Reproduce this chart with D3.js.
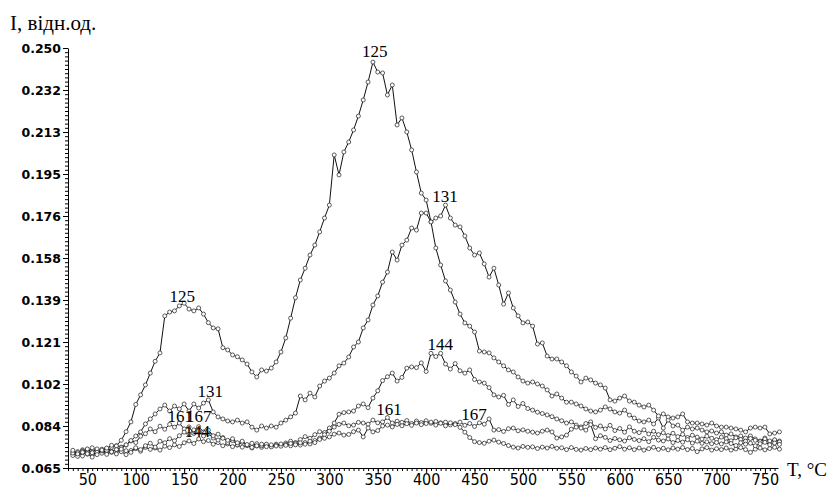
<!DOCTYPE html>
<html>
<head>
<meta charset="utf-8">
<script src="https://cdn.jsdelivr.net/npm/d3@7"></script>
<style>
    body { margin: 0; background: #fff; }
</style>
</head>
<body>
<div id="chart"></div>
<script>
// temperature grid, °C
const temps = [35,40,45,50,55,60,65,70,75,80,85,90,95,100,105,110,115,120,125,130,
    135,140,145,150,155,160,165,170,175,180,185,190,195,200,205,210,215,220,225,230,
    235,240,245,250,255,260,265,270,275,280,285,290,295,300,305,310,315,320,325,330,
    335,340,345,350,355,360,365,370,375,380,385,390,395,400,405,410,415,420,425,430,
    435,440,445,450,455,460,465,470,475,480,485,490,495,500,505,510,515,520,525,530,
    535,540,545,550,555,560,565,570,575,580,585,590,595,600,605,610,615,620,625,630,
    635,640,645,650,655,660,665,670,675,680,685,690,695,700,705,710,715,720,725,730,
    735,740,745,750,755,760,765];

// intensity, rel. units, one array per m/z
const s125 = [.0712,.0722,.0703,.0731,.0708,.0724,.0733,.0716,.0741,.0748,.0772,.0810,.0853,.0930,.0972,.1016,.1068,.1120,.1157,.1320,
    .1337,.1342,.1364,.1376,.1350,.1342,.1355,.1328,.1290,.1267,.1263,.1180,.1170,.1148,.1140,.1126,.1108,.1073,.1051,.1082,
    .1077,.1090,.1117,.1161,.1223,.1310,.1400,.1478,.1530,.1588,.1632,.1690,.1751,.1808,.2029,.1941,.2042,.2086,.2139,.2200,
    .2271,.2350,.2438,.2394,.2390,.2293,.2337,.2161,.2192,.2130,.2051,.1954,.1861,.1830,.1734,.1619,.1544,.1474,.1434,.1381,
    .1328,.1289,.1275,.1249,.1165,.1161,.1157,.1135,.1117,.1100,.1082,.1073,.1051,.1033,.1024,.1029,.1020,.1011,.0994,.0967,
    .0976,.0958,.0940,.0940,.0932,.0923,.0910,.0901,.0897,.0905,.0919,.0910,.0897,.0892,.0905,.0883,.0870,.0857,.0853,.0861,
    .0844,.0870,.0826,.0861,.0835,.0839,.0817,.0830,.0822,.0826,.0817,.0809,.0813,.0804,.0809,.0795,.0800,.0787,.0791,.0782,
    .0791,.0778,.0769,.0782,.0765,.0773,.0769];

const s131 = [.0721,.0712,.0730,.0718,.0739,.0727,.0722,.0736,.0750,.0747,.0742,.0751,.0769,.0791,.0809,.0844,.0866,.0888,.0910,.0927,
    .0901,.0923,.0910,.0932,.0901,.0932,.0914,.0936,.0950,.0897,.0875,.0866,.0857,.0853,.0861,.0848,.0853,.0830,.0817,.0835,
    .0826,.0835,.0830,.0848,.0861,.0875,.0892,.0967,.0950,.0980,.0963,.1011,.1033,.1046,.1068,.1100,.1112,.1139,.1183,.1205,
    .1267,.1302,.1368,.1408,.1469,.1513,.1601,.1566,.1632,.1654,.1707,.1698,.1773,.1773,.1734,.1751,.1760,.1808,.1751,.1720,
    .1712,.1672,.1619,.1588,.1597,.1549,.1491,.1530,.1456,.1372,.1421,.1355,.1320,.1289,.1293,.1275,.1196,.1201,.1143,.1130,
    .1130,.1117,.1100,.1073,.1055,.1029,.1046,.1038,.1024,.1016,.1002,.0950,.0945,.0958,.0967,.0945,.0940,.0927,.0919,.0927,
    .0905,.0879,.0888,.0875,.0870,.0875,.0888,.0853,.0848,.0848,.0844,.0839,.0848,.0835,.0830,.0830,.0826,.0822,.0817,.0809,
    .0826,.0830,.0826,.0830,.0800,.0804,.0809];

const s144 = [.0705,.0718,.0726,.0711,.0720,.0734,.0715,.0728,.0719,.0731,.0722,.0709,.0727,.0735,.0724,.0741,.0732,.0738,.0729,.0746,
    .0740,.0752,.0745,.0761,.0769,.0758,.0778,.0766,.0771,.0755,.0762,.0748,.0756,.0744,.0751,.0742,.0749,.0738,.0747,.0741,
    .0752,.0746,.0755,.0749,.0760,.0768,.0762,.0775,.0788,.0781,.0797,.0810,.0806,.0826,.0848,.0887,.0894,.0897,.0901,.0923,
    .0932,.0916,.0958,.0990,.1035,.1052,.1068,.1033,.1049,.1090,.1095,.1092,.1113,.1075,.1155,.1141,.1155,.1108,.1086,.1110,
    .1078,.1068,.1082,.1040,.1029,.1024,.1004,.0972,.0963,.0970,.0930,.0950,.0921,.0934,.0912,.0905,.0896,.0890,.0884,.0876,
    .0866,.0858,.0848,.0853,.0839,.0831,.0846,.0853,.0829,.0835,.0822,.0838,.0815,.0824,.0808,.0831,.0812,.0806,.0818,.0800,
    .0812,.0797,.0805,.0793,.0803,.0788,.0798,.0784,.0794,.0786,.0778,.0790,.0781,.0775,.0786,.0779,.0770,.0783,.0776,.0768,
    .0780,.0772,.0766,.0778,.0769,.0774,.0765];

const s161 = [.0716,.0701,.0722,.0713,.0698,.0719,.0725,.0710,.0723,.0731,.0740,.0752,.0771,.0762,.0790,.0801,.0822,.0810,.0834,.0821,
    .0842,.0830,.0848,.0822,.0831,.0802,.0813,.0791,.0801,.0782,.0773,.0784,.0762,.0771,.0752,.0763,.0749,.0741,.0757,.0748,
    .0755,.0743,.0751,.0746,.0754,.0748,.0758,.0751,.0762,.0756,.0771,.0782,.0797,.0812,.0830,.0842,.0848,.0836,.0839,.0851,
    .0848,.0843,.0861,.0849,.0853,.0872,.0848,.0856,.0851,.0859,.0846,.0857,.0850,.0858,.0847,.0855,.0849,.0852,.0840,.0846,
    .0829,.0808,.0784,.0766,.0762,.0759,.0768,.0773,.0764,.0758,.0749,.0742,.0738,.0745,.0741,.0743,.0736,.0742,.0738,.0745,
    .0737,.0739,.0731,.0740,.0732,.0729,.0736,.0731,.0738,.0733,.0740,.0731,.0737,.0744,.0733,.0739,.0731,.0738,.0729,.0735,
    .0741,.0732,.0737,.0730,.0738,.0733,.0740,.0731,.0736,.0722,.0734,.0740,.0729,.0735,.0731,.0738,.0729,.0734,.0740,.0731,
    .0719,.0733,.0738,.0730,.0736,.0741,.0733];

const s167 = [.0728,.0712,.0719,.0734,.0717,.0709,.0729,.0738,.0721,.0712,.0733,.0726,.0719,.0739,.0731,.0748,.0759,.0742,.0768,.0761,
    .0779,.0770,.0792,.0808,.0799,.0818,.0832,.0809,.0817,.0792,.0799,.0781,.0772,.0779,.0761,.0768,.0753,.0759,.0748,.0755,
    .0744,.0752,.0747,.0756,.0750,.0758,.0752,.0761,.0755,.0768,.0762,.0776,.0781,.0787,.0799,.0804,.0795,.0798,.0810,.0817,
    .0787,.0826,.0809,.0815,.0835,.0839,.0831,.0842,.0836,.0845,.0838,.0848,.0841,.0846,.0852,.0839,.0847,.0836,.0849,.0841,
    .0852,.0838,.0846,.0833,.0849,.0843,.0866,.0817,.0819,.0811,.0823,.0826,.0814,.0818,.0812,.0808,.0804,.0812,.0817,.0809,
    .0782,.0787,.0795,.0821,.0830,.0826,.0817,.0841,.0779,.0792,.0785,.0771,.0780,.0774,.0769,.0783,.0776,.0771,.0779,.0766,
    .0785,.0773,.0769,.0778,.0762,.0771,.0764,.0775,.0760,.0768,.0759,.0765,.0757,.0762,.0756,.0765,.0758,.0749,.0761,.0755,
    .0759,.0748,.0757,.0763,.0752,.0760,.0754];

const seriesList = [s125, s131, s144, s161, s167];

// peak labels (text anchor in data units)
const peakNames = ["125", "125", "131", "131", "144", "144", "161", "161", "167", "167"];
const peakT = [148, 347, 177, 419.5, 163.5, 414.5, 146, 361.5, 165, 449.5];
const peakI = [0.1381, 0.2460, 0.0963, 0.1822, 0.0787, 0.1170, 0.0853, 0.0884, 0.0853, 0.0861];

const xTicks = [50,100,150,200,250,300,350,400,450,500,550,600,650,700,750];
const yTicks = [0.065,0.0835,0.102,0.1205,0.139,0.1575,0.176,0.1945,0.213,0.2315,0.250];
const yTickLabels = ["0.065","0.084","0.102","0.121","0.139","0.158","0.176","0.195","0.213","0.232","0.250"];

const margin = {top: 48, right: 49, bottom: 22, left: 68};
const width = 827 - margin.left - margin.right;
const height = 490 - margin.top - margin.bottom;

const x = d3.scaleLinear()
    .domain([30, 763.5])
    .range([0, width]);

const y = d3.scaleLinear()
    .domain([0.065, 0.250])
    .range([height, 0]);

const svg = d3.select("#chart")
    .append("svg")
        .attr("width", 827)
        .attr("height", 490)
    .append("g")
        .attr("transform", `translate(${margin.left}, ${margin.top})`);

// minor ticks
svg.append("g")
    .attr("transform", `translate(0, ${height})`)
    .call(d3.axisBottom(x).tickValues(d3.range(30, 764, 5)).tickSize(3).tickFormat(""))
    .call(g => g.select(".domain").remove());

svg.append("g")
    .call(d3.axisLeft(y).tickValues(d3.range(0, 101).map(i => 0.065 + i * 0.00185)).tickSize(3).tickFormat(""))
    .call(g => g.select(".domain").remove());

// x-axis
svg.append("g")
    .attr("transform", `translate(0, ${height})`)
    .call(d3.axisBottom(x).tickValues(xTicks).tickSize(5).tickSizeOuter(0).tickPadding(1))
    .call(g => g.selectAll("text")
        .style("font-family", "'Liberation Sans Narrow', 'DejaVu Sans Condensed', sans-serif")
        .style("font-size", "16px")
        .attr("fill", "#000"));

// y-axis
svg.append("g")
    .call(d3.axisLeft(y).tickValues(yTicks).tickSize(5).tickSizeOuter(0).tickPadding(2)
        .tickFormat((d, i) => yTickLabels[i]))
    .call(g => g.selectAll("text")
        .style("font-family", "'DejaVu Sans', sans-serif")
        .style("font-weight", "bold")
        .style("font-size", "12.5px")
        .attr("fill", "#000"));

svg.selectAll(".domain, .tick line").attr("stroke", "#000");

const line = d3.line()
    .x((d, i) => x(temps[i]))
    .y(d => y(d));

seriesList.forEach(vals => {
    svg.append("path")
        .datum(vals)
        .attr("fill", "none")
        .attr("stroke", "#111")
        .attr("stroke-width", 1)
        .attr("d", line);

    svg.append("g")
        .selectAll("circle")
        .data(vals)
        .join("circle")
            .attr("cx", (d, i) => x(temps[i]))
            .attr("cy", d => y(d))
            .attr("r", 2)
            .attr("fill", "#fff")
            .attr("stroke", "#333")
            .attr("stroke-width", 0.8);
});

// peak labels
svg.append("g")
    .selectAll("text")
    .data(peakNames)
    .join("text")
        .attr("x", (d, i) => x(peakT[i]))
        .attr("y", (d, i) => y(peakI[i]))
        .attr("text-anchor", "middle")
        .style("font-family", "'Liberation Serif', serif")
        .style("font-size", "17px")
        .text(d => d);

// axis titles
svg.append("text")
    .attr("x", 10 - margin.left)
    .attr("y", 30 - margin.top)
    .style("font-family", "'Liberation Serif', serif")
    .style("font-size", "21px")
    .text("I, відн.од.");

svg.append("text")
    .attr("x", 787 - margin.left)
    .attr("y", 476 - margin.top)
    .style("font-family", "'Liberation Serif', serif")
    .style("font-size", "19px")
    .text("T, °C");
</script>
</body>
</html>
